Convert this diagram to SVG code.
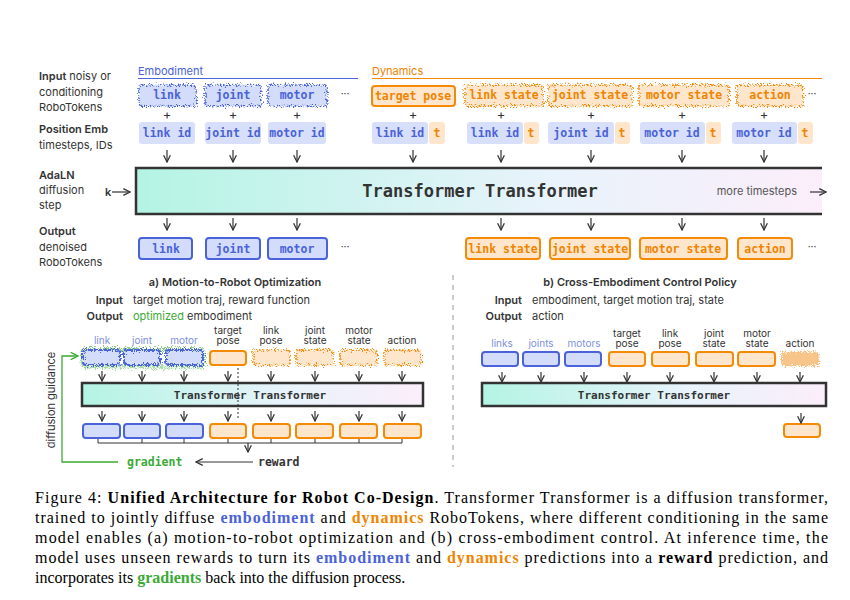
<svg xmlns="http://www.w3.org/2000/svg" width="850" height="600" viewBox="0 0 850 600">
<defs>
<linearGradient id="tg" x1="0" y1="0" x2="1" y2="0"><stop offset="0" stop-color="#b4f4e4"/><stop offset="0.6" stop-color="#e8f3fb"/><stop offset="1" stop-color="#fbeefa"/></linearGradient>
<filter id="nz" x="-20%" y="-40%" width="140%" height="180%"><feTurbulence type="fractalNoise" baseFrequency="0.9" numOctaves="2" result="t"/><feDisplacementMap in="SourceGraphic" in2="t" scale="7"/></filter>
<filter id="gz" x="-20%" y="-60%" width="140%" height="220%"><feTurbulence type="fractalNoise" baseFrequency="0.9" numOctaves="2" result="t"/><feDisplacementMap in="SourceGraphic" in2="t" scale="9"/></filter>
<marker id="ah" viewBox="0 0 10 10" refX="9" refY="5" markerWidth="7" markerHeight="7" orient="auto"><path d="M1 1L9 5L1 9" fill="none" stroke="#333" stroke-width="1.5"/></marker>
<marker id="ag" viewBox="0 0 10 10" refX="9" refY="5" markerWidth="7" markerHeight="7" orient="auto"><path d="M1 1L9 5L1 9" fill="none" stroke="#3aaa35" stroke-width="1.5"/></marker>
</defs>
<style>
text{font-family:Inter,"Liberation Sans",sans-serif;fill:#333}
.lb{font-size:11px}.lbb{font-size:11px;font-weight:600}
.mono{font-family:"DejaVu Sans Mono","Liberation Mono",monospace;font-weight:bold;font-size:11.5px;text-anchor:middle}
.bm{fill:#4a63d8}.om{fill:#f08400}
.bb{fill:#d3dcfb;stroke:#4a63d8;stroke-width:2}
.ob{fill:#fde6cc;stroke:#f58a07;stroke-width:2}
.bp{fill:#d7dffb}.op{fill:#fde6cc}
.arr{stroke:#333;stroke-width:1.2;fill:none;marker-end:url(#ah)}
.tb{fill:url(#tg);stroke:#333;stroke-width:2.5}
.sm{font-size:10px;text-anchor:middle}
.cap{font-family:"Liberation Serif",serif;font-size:16px;fill:#000}
</style>
<rect width="850" height="600" fill="#fff"/>
<g id="rowlabels">
<text x="39" y="80" class="lb"><tspan font-weight="600">Input</tspan> noisy or</text>
<text x="39" y="96" class="lb">conditioning</text><text x="39" y="111" class="lb">RoboTokens</text>
<text x="39" y="133" class="lbb">Position Emb</text><text x="39" y="149" class="lb">timesteps, IDs</text>
<text x="39" y="179" class="lbb">AdaLN</text><text x="39" y="194" class="lb">diffusion</text><text x="39" y="209" class="lb">step</text>
<text x="39" y="235" class="lbb">Output</text><text x="39" y="251" class="lb">denoised</text><text x="39" y="266" class="lb">RoboTokens</text>
</g>
<g id="groups">
<text x="138" y="75" class="lb" style="fill:#4a63d8">Embodiment</text>
<line x1="138" y1="78.5" x2="358" y2="78.5" stroke="#4a63d8" stroke-width="1.2"/>
<text x="372" y="75" class="lb" style="fill:#f08400">Dynamics</text>
<line x1="372" y1="78.5" x2="822" y2="78.5" stroke="#f58a07" stroke-width="1.2"/>
</g>
<g id="inputs">
<rect x="139" y="85" width="57" height="21" rx="3" class="bb" filter="url(#nz)" stroke-dasharray="1.5 1.5"/><text x="167" y="99" class="mono bm">link</text>
<rect x="205" y="85" width="56" height="21" rx="3" class="bb" filter="url(#nz)" stroke-dasharray="1.5 1.5"/><text x="233" y="99" class="mono bm">joint</text>
<rect x="268" y="85" width="59" height="21" rx="3" class="bb" filter="url(#nz)" stroke-dasharray="1.5 1.5"/><text x="297" y="99" class="mono bm">motor</text>
<text x="345" y="97" class="sm">···</text>
<rect x="372" y="86" width="83" height="20" rx="3" class="ob"/><text x="413" y="100" class="mono om">target pose</text>
<rect x="465" y="85" width="78" height="21" rx="3" class="ob" filter="url(#nz)" stroke-dasharray="1.5 1.5"/><text x="504" y="99" class="mono om">link state</text>
<rect x="548" y="85" width="84" height="21" rx="3" class="ob" filter="url(#nz)" stroke-dasharray="1.5 1.5"/><text x="590" y="99" class="mono om">joint state</text>
<rect x="639" y="85" width="90" height="21" rx="3" class="ob" filter="url(#nz)" stroke-dasharray="1.5 1.5"/><text x="684" y="99" class="mono om">motor state</text>
<rect x="737" y="85" width="66" height="21" rx="3" class="ob" filter="url(#nz)" stroke-dasharray="1.5 1.5"/><text x="770" y="99" class="mono om">action</text>
<text x="812" y="97" class="sm">···</text>
<g font-size="13" text-anchor="middle"><text x="167" y="119">+</text><text x="233" y="119">+</text><text x="297" y="119">+</text><text x="413" y="119">+</text><text x="501" y="119">+</text><text x="591" y="119">+</text><text x="682" y="119">+</text><text x="764" y="119">+</text></g>
</g>
<g id="posemb">
<rect x="139" y="122" width="56" height="22" rx="3" class="bp"/><text x="167" y="137" class="mono bm">link id</text>
<rect x="205" y="122" width="56" height="22" rx="3" class="bp"/><text x="233" y="137" class="mono bm">joint id</text>
<rect x="268" y="122" width="58" height="22" rx="3" class="bp"/><text x="297" y="137" class="mono bm">motor id</text>
<rect x="372" y="122" width="56" height="22" rx="3" class="bp"/><text x="400" y="137" class="mono bm">link id</text><rect x="429" y="122" width="16" height="22" rx="3" class="op"/><text x="437" y="137" class="mono om">t</text>
<rect x="467" y="122" width="56" height="22" rx="3" class="bp"/><text x="495" y="137" class="mono bm">link id</text><rect x="524" y="122" width="15" height="22" rx="3" class="op"/><text x="531" y="137" class="mono om">t</text>
<rect x="548" y="122" width="66" height="22" rx="3" class="bp"/><text x="581" y="137" class="mono bm">joint id</text><rect x="615" y="122" width="15" height="22" rx="3" class="op"/><text x="622" y="137" class="mono om">t</text>
<rect x="640" y="122" width="65" height="22" rx="3" class="bp"/><text x="672" y="137" class="mono bm">motor id</text><rect x="706" y="122" width="15" height="22" rx="3" class="op"/><text x="713" y="137" class="mono om">t</text>
<rect x="732" y="122" width="65" height="22" rx="3" class="bp"/><text x="764" y="137" class="mono bm">motor id</text><rect x="798" y="122" width="15" height="22" rx="3" class="op"/><text x="805" y="137" class="mono om">t</text>
</g>
<g id="transformer">
<rect x="136" y="168" width="686" height="46" fill="url(#tg)"/>
<path d="M822 168H136V214H822" stroke="#333" stroke-width="2.5" fill="none"/>
<text x="480" y="197" style="font-family:'DejaVu Sans Mono',monospace;font-weight:bold;font-size:17px;text-anchor:middle">Transformer Transformer</text>
<text x="797" y="195" class="lb" text-anchor="end" style="fill:#555">more timesteps</text>
<text x="105" y="196" class="lbb">k</text>
</g>
<g id="outputs">
<rect x="139" y="238" width="53" height="21" rx="3" class="bb"/><text x="166" y="253" class="mono bm">link</text>
<rect x="206" y="238" width="54" height="21" rx="3" class="bb"/><text x="233" y="253" class="mono bm">joint</text>
<rect x="268" y="238" width="59" height="21" rx="3" class="bb"/><text x="297" y="253" class="mono bm">motor</text>
<text x="345" y="250" class="sm">···</text>
<rect x="466" y="238" width="74" height="21" rx="3" class="ob"/><text x="503" y="253" class="mono om">link state</text>
<rect x="550" y="238" width="80" height="21" rx="3" class="ob"/><text x="590" y="253" class="mono om">joint state</text>
<rect x="640" y="238" width="87" height="21" rx="3" class="ob"/><text x="683" y="253" class="mono om">motor state</text>
<rect x="738" y="238" width="54" height="21" rx="3" class="ob"/><text x="765" y="253" class="mono om">action</text>
<text x="812" y="250" class="sm">···</text>
</g>
<g id="panelA">
<text x="235" y="286" class="lbb" text-anchor="middle">a) Motion-to-Robot Optimization</text>
<text x="123" y="304" class="lbb" text-anchor="end">Input</text><text x="133" y="304" class="lb">target motion traj, reward function</text>
<text x="123" y="320" class="lbb" text-anchor="end">Output</text><text x="133" y="320" class="lb"><tspan style="fill:#3aaa35">optimized</tspan> embodiment</text>
<g class="sm"><text x="102" y="344" style="fill:#7d8fe0">link</text><text x="142" y="344" style="fill:#7d8fe0">joint</text><text x="184" y="344" style="fill:#7d8fe0">motor</text>
<g style="fill:#f39a3a"><text x="228" y="333.5">target</text><text x="228" y="344">pose</text><text x="271" y="333.5">link</text><text x="271" y="344">pose</text><text x="315" y="333.5">joint</text><text x="315" y="344">state</text><text x="359" y="333.5">motor</text><text x="359" y="344">state</text><text x="402" y="344">action</text></g></g>
<g filter="url(#gz)" fill="none" stroke="#5cc058" stroke-width="4" stroke-dasharray="1 1" opacity="0.7"><rect x="82" y="349" width="122" height="18" rx="4"/></g>
<rect x="83" y="350" width="37" height="15" rx="3" class="bb" filter="url(#nz)"/><rect x="124" y="350" width="36" height="15" rx="3" class="bb" filter="url(#nz)"/><rect x="166" y="350" width="37" height="15" rx="3" class="bb" filter="url(#nz)"/>
<rect x="210" y="351" width="36" height="14" rx="3" class="ob"/>
<g filter="url(#nz)" stroke-dasharray="1.5 1.5"><rect x="253" y="350" width="37" height="15" rx="3" class="ob"/><rect x="296" y="350" width="37" height="15" rx="3" class="ob"/><rect x="340" y="350" width="37" height="15" rx="3" class="ob"/><rect x="384" y="350" width="37" height="15" rx="3" class="ob"/></g>
<rect x="82" y="383" width="341" height="23" class="tb"/>
<text x="250" y="399" class="mono" style="font-size:11px">Transformer Transformer</text>
<rect x="83" y="424" width="37" height="14" rx="3" class="bb"/><rect x="124" y="424" width="36" height="14" rx="3" class="bb"/><rect x="166" y="424" width="37" height="14" rx="3" class="bb"/>
<rect x="210" y="424" width="36" height="14" rx="3" class="ob"/><rect x="253" y="424" width="37" height="14" rx="3" class="ob"/><rect x="296" y="424" width="37" height="14" rx="3" class="ob"/><rect x="340" y="424" width="37" height="14" rx="3" class="ob"/><rect x="384" y="424" width="37" height="14" rx="3" class="ob"/>
<text x="127" y="466" class="mono" style="fill:#3aaa35;text-anchor:start">gradient</text>
<text x="258" y="466" class="mono" style="text-anchor:start">reward</text>
<text transform="translate(55,400) rotate(-90)" class="lb" text-anchor="middle">diffusion guidance</text>
</g>
<line x1="453" y1="275" x2="453" y2="467" stroke="#999" stroke-dasharray="5 5"/>
<g id="panelB">
<text x="640" y="286" class="lbb" text-anchor="middle">b) Cross-Embodiment Control Policy</text>
<text x="522" y="304" class="lbb" text-anchor="end">Input</text><text x="532" y="304" class="lb">embodiment, target motion traj, state</text>
<text x="522" y="320" class="lbb" text-anchor="end">Output</text><text x="532" y="320" class="lb">action</text>
<g class="sm"><text x="502" y="347" style="fill:#7d8fe0">links</text><text x="541" y="347" style="fill:#7d8fe0">joints</text><text x="584" y="347" style="fill:#7d8fe0">motors</text>
<g style="fill:#f39a3a"><text x="627" y="336.5">target</text><text x="627" y="347">pose</text><text x="670" y="336.5">link</text><text x="670" y="347">pose</text><text x="714" y="336.5">joint</text><text x="714" y="347">state</text><text x="757" y="336.5">motor</text><text x="757" y="347">state</text><text x="800" y="347">action</text></g></g>
<rect x="482" y="352" width="36" height="14" rx="3" class="bb"/><rect x="523" y="352" width="36" height="14" rx="3" class="bb"/><rect x="565" y="352" width="36" height="14" rx="3" class="bb"/>
<rect x="609" y="352" width="36" height="14" rx="3" class="ob"/><rect x="652" y="352" width="37" height="14" rx="3" class="ob"/><rect x="696" y="352" width="37" height="14" rx="3" class="ob"/><rect x="738" y="352" width="37" height="14" rx="3" class="ob"/>
<rect x="781" y="352" width="38" height="14" rx="2" fill="#f7c48a" stroke="#f7b060" stroke-dasharray="1 1.5" filter="url(#gz)"/>
<rect x="482" y="383" width="344" height="23" class="tb"/>
<text x="654" y="399" class="mono" style="font-size:11px">Transformer Transformer</text>
<rect x="784" y="424" width="36" height="13" rx="3" class="ob"/>
</g>
<g id="connectors">
<path class="arr" d="M167 150V162"/><path class="arr" d="M233 150V162"/><path class="arr" d="M297 150V162"/><path class="arr" d="M413 150V162"/><path class="arr" d="M501 150V162"/><path class="arr" d="M591 150V162"/><path class="arr" d="M682 150V162"/><path class="arr" d="M764 150V162"/>
<path class="arr" d="M167 218V230"/><path class="arr" d="M233 218V230"/><path class="arr" d="M297 218V230"/><path class="arr" d="M501 218V230"/><path class="arr" d="M591 218V230"/><path class="arr" d="M682 218V230"/><path class="arr" d="M764 218V230"/>
<path class="arr" d="M112 192H130"/><path class="arr" d="M810 192H826"/>
<path class="arr" d="M102 371V381"/><path class="arr" d="M142 371V381"/><path class="arr" d="M184 371V381"/><path class="arr" d="M228 371V381"/><path class="arr" d="M271 371V381"/><path class="arr" d="M315 371V381"/><path class="arr" d="M359 371V381"/><path class="arr" d="M402 371V381"/>
<path class="arr" d="M102 411V421"/><path class="arr" d="M142 411V421"/><path class="arr" d="M184 411V421"/><path class="arr" d="M228 411V421"/><path class="arr" d="M271 411V421"/><path class="arr" d="M315 411V421"/><path class="arr" d="M359 411V421"/><path class="arr" d="M402 411V421"/>
<path d="M238 368V418" stroke="#333" stroke-dasharray="2 2" fill="none"/>
<path d="M98 439V443H402V439M142 443V439M184 443V439M228 443V439M271 443V439M315 443V439M359 443V439" stroke="#333" fill="none"/>
<path class="arr" d="M248 443V452"/>
<path class="arr" d="M253 462H196"/>
<path d="M118 462H62V356H78" stroke="#3aaa35" stroke-width="1.3" fill="none" marker-end="url(#ag)"/>
<path class="arr" d="M502 372V382"/><path class="arr" d="M541 372V382"/><path class="arr" d="M584 372V382"/><path class="arr" d="M627 372V382"/><path class="arr" d="M670 372V382"/><path class="arr" d="M714 372V382"/><path class="arr" d="M757 372V382"/><path class="arr" d="M800 372V382"/><path class="arr" d="M801 413V423"/>
</g>
<g id="caption">
<text x="35" y="503" class="cap" textLength="793" lengthAdjust="spacing">Figure 4: <tspan font-weight="bold">Unified Architecture for Robot Co-Design</tspan>. Transformer Transformer is a diffusion transformer,</text>
<text x="35" y="523" class="cap" textLength="793" lengthAdjust="spacing">trained to jointly diffuse <tspan font-weight="bold" fill="#4a63d8">embodiment</tspan> and <tspan font-weight="bold" fill="#f08400">dynamics</tspan> RoboTokens, where different conditioning in the same</text>
<text x="35" y="543" class="cap" textLength="793" lengthAdjust="spacing">model enables (a) motion-to-robot optimization and (b) cross-embodiment control.  At inference time, the</text>
<text x="35" y="563" class="cap" textLength="793" lengthAdjust="spacing">model uses unseen rewards to turn its <tspan font-weight="bold" fill="#4a63d8">embodiment</tspan> and <tspan font-weight="bold" fill="#f08400">dynamics</tspan> predictions into a <tspan font-weight="bold">reward</tspan> prediction, and</text>
<text x="35" y="583" class="cap">incorporates its <tspan font-weight="bold" fill="#3aaa35">gradients</tspan> back into the diffusion process.</text>
</g>
</svg>
